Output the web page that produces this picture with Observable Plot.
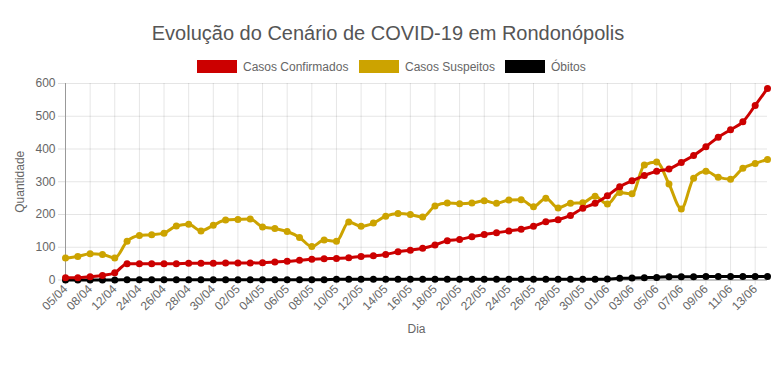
<!DOCTYPE html>
<html>
<head>
<meta charset="utf-8">
<script src="https://cdn.jsdelivr.net/npm/d3@7"></script>
<script src="https://cdn.jsdelivr.net/npm/@observablehq/plot@0.6"></script>
<style>
  html, body { margin: 0; padding: 0; background: #fff; }
  body { width: 780px; height: 385px; overflow: hidden; font-family: "Liberation Sans", Arial, sans-serif; }
  #head { position: relative; width: 780px; height: 76px; }
  #title { position: absolute; left: 0; width: 776px; top: 22px; text-align: center; font-size: 20px; color: #555; }
  .leg { position: absolute; top: 60px; height: 14px; font-size: 12px; color: #666; line-height: 14px; white-space: nowrap; }
  .box { display: inline-block; width: 40px; height: 13px; vertical-align: top; margin-right: 6px; box-sizing: border-box; }
  #chart svg { display: block; }
</style>
</head>
<body>
<div id="head">
  <div id="title">Evolução do Cenário de COVID-19 em Rondonópolis</div>
  <div class="leg" style="left:197px"><span class="box" style="background:#cc0000"></span>Casos Confirmados</div>
  <div class="leg" style="left:359px"><span class="box" style="background:#cca300"></span>Casos Suspeitos</div>
  <div class="leg" style="left:505px"><span class="box" style="background:#000"></span>Óbitos</div>
</div>
<div id="chart"></div>
<script>
const dias = [
  "05/04","07/04","08/04","10/04","12/04","22/04","24/04","25/04","26/04","27/04",
  "28/04","29/04","30/04","01/05","02/05","03/05","04/05","05/05","06/05","07/05",
  "08/05","09/05","10/05","11/05","12/05","13/05","14/05","15/05","16/05","17/05",
  "18/05","19/05","20/05","21/05","22/05","23/05","24/05","25/05","26/05","27/05",
  "28/05","29/05","30/05","31/05","01/06","02/06","03/06","04/06","05/06","06/06",
  "07/06","08/06","09/06","10/06","11/06","12/06","13/06","14/06"
];
const diasRotulados = [
  "05/04","08/04","12/04","24/04","26/04","28/04","30/04","02/05","04/05","06/05",
  "08/05","10/05","12/05","14/05","16/05","18/05","20/05","22/05","24/05","26/05",
  "28/05","30/05","01/06","03/06","05/06","07/06","09/06","11/06","13/06"
];
const casosConfirmados = [
  7,7,10,14,22, 50,50,50,50,50, 51,51,51,52,52, 52,53,55,57,60,
  63,65,66,68,72, 74,78,86,91,97, 107,120,124,132,139, 144,150,155,164,178,
  184,197,219,234,257, 285,303,319,332,339, 359,380,407,436,459, 483,533,585
];
const casosSuspeitos = [
  67,72,80,78,67, 118,136,138,143,165, 170,150,167,183,185, 186,162,157,148,130,
  102,122,118,177,164, 174,195,203,200,192, 226,235,233,235,242, 234,244,245,224,250,
  220,234,236,256,232, 267,263,351,360,293, 217,311,332,314,308, 341,356,368
];
const obitos = [
  0,0,0,0,0, 1,1,1,1,1, 1,1,1,1,1, 1,1,1,1,1,
  1,1,2,2,2, 2,2,2,2,2, 2,2,2,2,2, 2,2,2,2,2,
  2,2,2,2,3, 5,6,7,8,10, 10,10,11,11,11, 11,11,11
];
const yTicks = [0,100,200,300,400,500,600];

const series = [
  {nome: "Óbitos", valores: obitos, cor: "#000000"},
  {nome: "Casos Suspeitos", valores: casosSuspeitos, cor: "#cca300"},
  {nome: "Casos Confirmados", valores: casosConfirmados, cor: "#cc0000"}
];

const marks = [
  Plot.gridY(yTicks, {stroke: "#000", strokeOpacity: 0.1}),
  Plot.gridX(diasRotulados, {stroke: "#000", strokeOpacity: 0.1}),
  Plot.axisY(yTicks, {tickSize: 7, tickPadding: 3, stroke: "#ddd", fill: "#666", label: "Quantidade", labelAnchor: "center", labelOffset: 50, labelArrow: false}),
  Plot.axisX(diasRotulados, {tickSize: 5, tickPadding: 2, tickRotate: -45, stroke: "#ddd", fill: "#666", label: "Dia", labelAnchor: "center", labelOffset: 53, labelArrow: false}),
  Plot.ruleX([dias[0]], {stroke: "#999"}),
  Plot.ruleY([0], {stroke: "#999"})
];
for (const s of series) {
  const rows = s.valores.map((v, i) => ({dia: dias[i], valor: v}));
  marks.push(Plot.line(rows, {x: "dia", y: "valor", stroke: s.cor, strokeWidth: 3, curve: "monotone-x"}));
  marks.push(Plot.dot(rows, {x: "dia", y: "valor", fill: s.cor, r: 3.5}));
}

const chart = Plot.plot({
  width: 780,
  height: 309,
  marginLeft: 65,
  marginRight: 13,
  marginTop: 7,
  marginBottom: 105.5,
  style: {fontFamily: "'Liberation Sans', Arial, sans-serif", fontSize: "12px", color: "#666", background: "#fff"},
  x: {type: "point", domain: dias, padding: 0, round: false},
  y: {domain: [0, 600]},
  marks
});
document.getElementById("chart").appendChild(chart);
</script>
</body>
</html>
